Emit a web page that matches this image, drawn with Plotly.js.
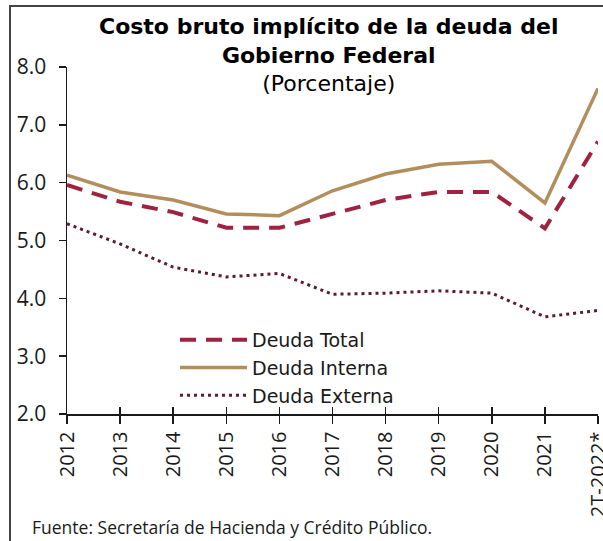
<!DOCTYPE html>
<html>
<head>
<meta charset="utf-8">
<script src="https://cdn.plot.ly/plotly-3.0.1.min.js"></script>
<style>
  html, body { margin: 0; padding: 0; background: #fff; overflow: hidden; }
  #frame { position: absolute; left: 9px; top: 5px; width: 600px; height: 540px; border-left: 2px solid #444; border-top: 2px solid #444; }
  #chart { position: absolute; left: 0; top: 0; width: 603px; height: 541px; }
</style>
</head>
<body>
<div id="frame"></div>
<div id="chart"></div>
<script>
const categories = ["2012", "2013", "2014", "2015", "2016", "2017", "2018", "2019", "2020", "2021", "2T-2022*"];
const deudaTotal   = [5.96, 5.67, 5.49, 5.22, 5.22, 5.46, 5.70, 5.84, 5.84, 5.21, 6.71];
const deudaInterna = [6.13, 5.84, 5.70, 5.46, 5.43, 5.86, 6.15, 6.32, 6.37, 5.65, 7.63];
const deudaExterna = [5.29, 4.94, 4.54, 4.37, 4.43, 4.07, 4.09, 4.13, 4.09, 3.68, 3.79];
const yTicks = [2.0, 3.0, 4.0, 5.0, 6.0, 7.0, 8.0];
const yTickText = ["2.0", "3.0", "4.0", "5.0", "6.0", "7.0", "8.0"];

const FONT = "Open Sans, Noto Sans, sans-serif";
const WIDE_FONT = "DejaVu Sans, Open Sans, sans-serif";

const traces = [
  { x: categories, y: deudaTotal, name: "Deuda Total", type: "scatter", mode: "lines",
    line: { color: "#9F2241", width: 4, dash: "16px,10px" } },
  { x: categories, y: deudaInterna, name: "Deuda Interna", type: "scatter", mode: "lines",
    line: { color: "#B38E5D", width: 3.5 } },
  { x: categories, y: deudaExterna, name: "Deuda Externa", type: "scatter", mode: "lines",
    line: { color: "#5E1B2E", width: 3, dash: "3px,4px" } },
  { x: categories, y: deudaTotal, xaxis: "x2", yaxis: "y", showlegend: false, hoverinfo: "skip",
    type: "scatter", mode: "lines", line: { width: 0 }, opacity: 0 }
];

const layout = {
  width: 603, height: 541,
  margin: { l: 67, r: 5, t: 67, b: 127 },
  paper_bgcolor: "rgba(0,0,0,0)",
  plot_bgcolor: "rgba(0,0,0,0)",
  font: { family: FONT, color: "#1a1a1a" },
  showlegend: true,
  legend: {
    x: 0.2034, y: 0.268, xanchor: "left", yanchor: "top",
    font: { family: WIDE_FONT, size: 19, color: "#1a1a1a" },
    bgcolor: "rgba(0,0,0,0)", itemwidth: 67, tracegroupgap: 0
  },
  xaxis: {
    type: "category", categoryorder: "array", categoryarray: categories,
    range: [0, 10], showgrid: false, zeroline: false,
    showline: true, linecolor: "#1a1a1a", linewidth: 1.5,
    ticks: "outside", ticklen: 8, tickwidth: 1.5, tickcolor: "#1a1a1a",
    tickangle: -90, tickfont: { family: FONT, size: 20, color: "#1a1a1a" },
    automargin: false
  },
  xaxis2: {
    type: "category", categoryorder: "array", categoryarray: categories,
    overlaying: "x", range: [0, 10], showgrid: false, zeroline: false,
    showline: false, ticks: "inside", ticklen: 7, tickwidth: 1.5, tickcolor: "#1a1a1a",
    showticklabels: false, anchor: "y"
  },
  yaxis: {
    range: [2, 8], tickvals: yTicks, ticktext: yTickText,
    showgrid: false, zeroline: false,
    showline: true, linecolor: "#1a1a1a", linewidth: 1.5,
    ticks: "outside", ticklen: 7, tickwidth: 1.5, tickcolor: "#1a1a1a",
    ticklabelstandoff: 8,
    tickfont: { family: FONT, size: 21, color: "#1a1a1a" },
    automargin: false
  },
  annotations: [
    { text: "<b>Costo bruto implícito de la deuda del</b><br><b>Gobierno Federal</b><br>(Porcentaje)",
      xref: "paper", yref: "paper", align: "center",
      x: 0.493, y: 1.035, xanchor: "center", yanchor: "middle", showarrow: false,
      font: { family: WIDE_FONT, size: 22, color: "#000" } },
    { text: "Fuente: Secretaría de Hacienda y Crédito Público.", xref: "paper", yref: "paper",
      x: -0.07, y: -0.326, xanchor: "left", yanchor: "middle", showarrow: false,
      font: { family: FONT, size: 17.5, color: "#1a1a1a" } }
  ]
};

Plotly.newPlot("chart", traces, layout, { displayModeBar: false, staticPlot: true });
</script>
</body>
</html>
